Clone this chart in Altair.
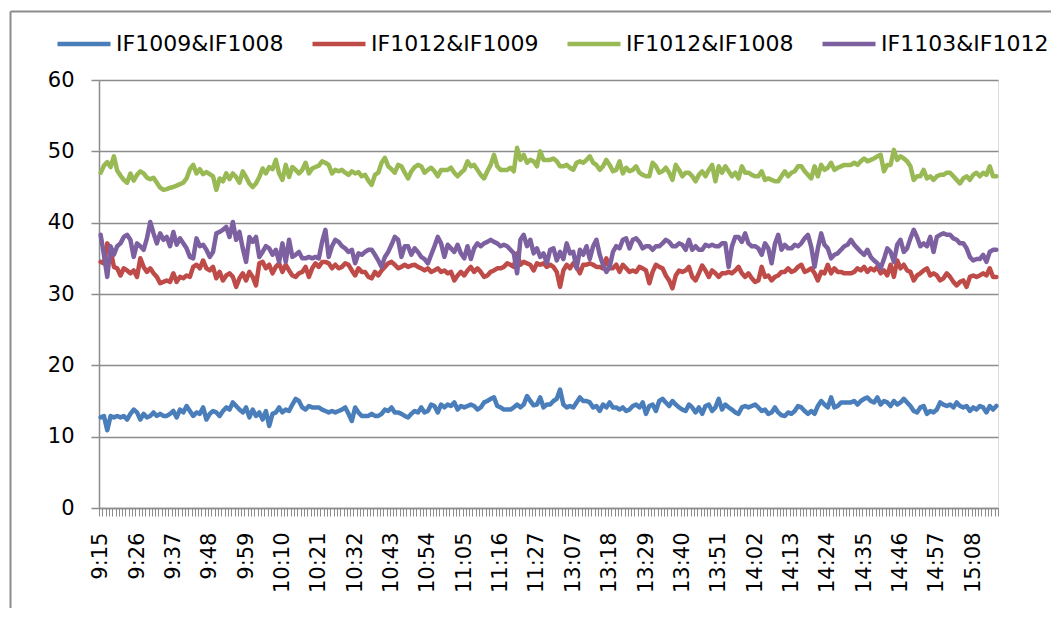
import altair as alt
import pandas as pd

series_names = ["IF1009&IF1008", "IF1012&IF1009", "IF1012&IF1008", "IF1103&IF1012"]
series_colors = ["#4A7EBB", "#BE4B48", "#98B954", "#7D60A0"]

tick_labels = ["9:15", "9:26", "9:37", "9:48", "9:59", "10:10", "10:21", "10:32",
               "10:43", "10:54", "11:05", "11:16", "11:27", "13:07", "13:18", "13:29",
               "13:40", "13:51", "14:02", "14:13", "14:24", "14:35", "14:46", "14:57",
               "15:08"]


def session(h0, m0, h1, m1):
    out = []
    t = h0 * 60 + m0
    while t <= h1 * 60 + m1:
        out.append(f"{t // 60}:{t % 60:02d}")
        t += 1
    return out


times = session(9, 15, 11, 30) + session(13, 0, 15, 15)

blue = [
    12.7, 12.9, 10.9, 12.9, 12.7, 12.9, 12.7, 12.9, 12.4, 13.2,
    13.8, 13.4, 12.4, 13.2, 12.7, 12.9, 13.4, 12.9, 13.2, 12.9,
    12.9, 13.2, 13.6, 12.7, 13.8, 13.4, 14.3, 13.6, 12.9, 13.4,
    13.2, 14.1, 12.4, 13.2, 13.6, 13.4, 12.9, 13.6, 14.1, 13.8,
    14.8, 14.3, 13.8, 13.4, 14.1, 12.7, 13.8, 12.9, 13.4, 12.4,
    13.6, 11.5, 13.2, 13.4, 14.1, 13.4, 13.8, 13.6, 14.5, 15.3,
    15.0, 14.1, 13.8, 14.3, 14.1, 14.1, 14.1, 13.8, 13.6, 13.4,
    13.6, 13.4, 13.6, 13.8, 14.1, 13.2, 12.2, 14.1, 13.4, 12.9,
    12.9, 12.9, 13.2, 12.9, 12.9, 13.2, 13.8, 13.6, 14.1, 13.4,
    13.4, 13.2, 12.9, 12.7, 13.2, 13.6, 13.4, 14.1, 13.4, 13.6,
    14.5, 14.3, 13.4, 14.5, 14.1, 14.5, 14.3, 14.8, 13.8, 14.3,
    14.1, 14.3, 14.5, 14.3, 13.8, 14.1, 14.8, 15.0, 15.3, 15.5,
    14.3, 14.1, 13.8, 13.8, 13.8, 14.1, 14.5, 14.1, 14.5, 15.7,
    15.0, 14.4, 14.5, 15.5, 14.1, 14.5, 14.5, 15.0, 15.3, 16.6,
    14.5, 14.1, 14.3, 14.1, 14.8, 15.5, 15.0, 15.0, 14.8, 14.1,
    14.3, 13.6, 14.5, 14.1, 14.8, 14.1, 14.1, 13.8, 14.1, 13.6,
    13.8, 14.3, 14.5, 14.1, 14.8, 13.2, 14.3, 14.5, 13.6, 15.0,
    15.3, 14.8, 14.3, 15.0, 14.5, 14.1, 13.8, 13.6, 14.5, 14.1,
    13.4, 14.1, 13.2, 14.3, 14.5, 13.6, 14.1, 15.3, 13.8, 14.5,
    14.1, 13.8, 13.4, 13.2, 14.1, 14.3, 14.1, 14.3, 14.5, 14.1,
    13.6, 13.8, 13.2, 13.4, 14.1, 13.4, 13.0, 12.9, 13.4, 13.2,
    13.6, 14.3, 14.1, 13.6, 13.2, 13.6, 13.2, 14.3, 15.0, 14.5,
    14.1, 15.5, 14.1, 14.3, 14.8, 14.8, 14.8, 14.8, 15.0, 14.5,
    15.0, 15.3, 15.5, 15.0, 14.8, 15.5, 14.5, 15.0, 14.8, 14.3,
    15.0, 14.5, 14.8, 15.3, 14.8, 14.3, 13.6, 13.4, 14.1, 14.3,
    13.2, 13.6, 13.4, 13.8, 14.8, 14.5, 14.3, 14.5, 14.1, 14.8,
    14.3, 14.1, 14.3, 13.6, 14.1, 13.8, 14.3, 14.1, 13.4, 14.3,
    13.8, 14.3,
]

red = [
    34.5, 34.3, 37.1, 36.2, 33.8, 33.6, 32.6, 33.6, 33.3, 32.9,
    33.3, 32.4, 35.0, 33.8, 33.1, 33.6, 32.9, 32.4, 31.5, 31.7,
    31.9, 31.7, 32.9, 31.7, 32.4, 32.2, 32.6, 32.4, 33.8, 34.1,
    33.6, 34.7, 33.6, 33.3, 33.8, 32.2, 33.1, 31.9, 32.6, 32.9,
    32.4, 31.0, 32.2, 32.9, 31.9, 33.1, 32.4, 31.2, 34.3, 34.5,
    33.6, 34.1, 32.9, 33.8, 34.3, 33.1, 34.1, 33.3, 32.6, 32.4,
    32.9, 33.1, 33.8, 32.4, 33.6, 34.3, 33.8, 34.5, 34.5, 34.3,
    33.6, 34.1, 33.6, 33.8, 34.3, 34.1, 33.3, 32.6, 33.6, 33.1,
    33.1, 32.4, 32.2, 33.1, 32.6, 33.3, 33.8, 34.3, 34.5, 34.1,
    33.6, 33.8, 34.1, 33.8, 34.0, 34.1, 33.8, 33.6, 33.3, 33.6,
    33.1, 33.3, 33.6, 33.1, 33.3, 32.9, 33.1, 31.9, 32.6, 33.1,
    32.6, 33.3, 33.8, 33.1, 33.6, 33.1, 32.4, 32.6, 33.1, 33.3,
    33.6, 33.6, 33.8, 34.3, 34.1, 33.8, 35.7, 34.1, 34.5, 34.3,
    34.1, 33.3, 34.3, 34.1, 34.3, 33.8, 34.1, 33.8, 33.1, 31.0,
    33.3, 34.1, 33.6, 34.3, 33.8, 32.9, 34.1, 34.1, 34.3, 34.1,
    33.8, 33.8, 33.6, 35.0, 33.6, 33.6, 34.1, 33.1, 34.1, 33.6,
    33.1, 33.3, 33.1, 33.8, 33.6, 33.3, 31.5, 33.1, 34.1, 33.8,
    33.6, 32.6, 31.9, 30.8, 32.6, 33.3, 33.1, 33.3, 33.8, 32.4,
    31.9, 32.9, 34.0, 33.3, 32.4, 33.3, 32.9, 32.4, 32.9, 32.9,
    33.1, 32.9, 33.3, 33.8, 32.9, 32.4, 32.9, 32.2, 31.7, 31.9,
    33.8, 32.4, 32.6, 31.9, 32.4, 32.6, 33.1, 33.1, 33.6, 33.1,
    33.3, 33.8, 34.1, 33.1, 33.3, 33.6, 32.9, 31.9, 33.1, 32.9,
    34.1, 32.9, 33.6, 33.1, 33.1, 32.9, 32.9, 32.9, 33.1, 33.6,
    33.3, 33.8, 33.1, 33.6, 33.3, 33.8, 32.9, 33.3, 32.6, 34.1,
    32.4, 34.7, 33.6, 34.1, 33.3, 33.1, 31.9, 32.6, 32.9, 33.3,
    33.6, 32.6, 32.9, 32.6, 31.9, 32.2, 32.9, 32.4, 31.7, 31.2,
    31.7, 31.9, 31.0, 32.4, 32.6, 32.4, 32.6, 32.9, 32.6, 33.6,
    32.4, 32.4,
]

green = [
    47.0, 48.0, 48.5, 47.8, 49.3, 47.3, 46.6, 46.0, 45.6, 46.9,
    45.9, 46.7, 47.2, 46.9, 46.3, 46.1, 46.3, 45.6, 44.9, 44.6,
    44.7, 44.9, 45.0, 45.2, 45.4, 45.6, 46.2, 47.5, 48.1, 46.9,
    47.5, 46.8, 47.1, 46.8, 46.5, 44.6, 46.2, 45.8, 46.9, 46.1,
    46.9, 46.4, 45.6, 47.2, 46.4, 45.5, 45.0, 45.5, 46.4, 47.6,
    46.9, 47.8, 47.5, 48.8, 46.9, 46.0, 48.1, 46.4, 47.8, 47.4,
    46.9, 47.4, 48.4, 46.9, 47.6, 47.8, 48.0, 48.6, 48.4, 48.1,
    46.9, 47.4, 47.2, 47.4, 47.0, 46.7, 47.2, 46.9, 47.1, 46.5,
    46.7, 45.9, 45.3, 46.7, 47.0, 48.4, 49.1, 47.9, 47.5, 47.0,
    48.1, 47.9, 47.0, 46.2, 47.2, 47.8, 48.1, 47.9, 47.0, 47.4,
    47.7, 47.2, 46.5, 47.4, 47.4, 47.4, 47.7, 47.0, 46.5, 47.0,
    47.4, 48.6, 47.9, 48.1, 47.4, 46.7, 46.2, 47.2, 48.1, 49.5,
    47.9, 47.4, 47.4, 47.4, 47.7, 47.2, 50.5, 48.8, 49.5, 48.4,
    48.8, 48.6, 47.9, 50.0, 48.8, 48.8, 48.8, 49.0, 48.6, 47.9,
    47.9, 48.1, 47.7, 47.4, 48.4, 48.6, 48.4, 48.8, 49.3, 48.4,
    48.1, 47.4, 47.9, 48.8, 48.1, 47.2, 47.4, 48.6, 46.9, 47.7,
    47.2, 47.4, 47.9, 47.0, 46.7, 46.5, 46.5, 48.4, 47.9, 47.0,
    47.2, 47.7, 47.0, 46.0, 48.1, 47.4, 46.5, 47.0, 47.0, 46.5,
    45.8, 46.7, 47.2, 46.5, 47.4, 48.1, 45.8, 47.9, 47.0, 47.9,
    47.2, 46.5, 47.0, 46.2, 47.9, 47.0, 47.0, 46.7, 46.5, 46.5,
    47.2, 46.0, 46.2, 46.0, 45.8, 45.8, 46.5, 47.2, 46.5, 47.0,
    47.2, 47.9, 47.9, 47.2, 46.7, 46.2, 47.9, 46.5, 48.1, 47.4,
    47.7, 48.4, 47.4, 47.7, 47.9, 48.1, 48.1, 48.1, 48.4, 48.1,
    48.6, 49.0, 48.6, 48.8, 49.0, 49.3, 49.5, 47.2, 48.1, 48.1,
    50.2, 48.8, 49.3, 49.0, 48.6, 47.9, 46.0, 46.5, 46.5, 47.4,
    46.2, 46.5, 46.0, 46.5, 46.7, 46.7, 47.0, 47.0, 46.5, 46.0,
    45.5, 46.2, 46.5, 46.0, 46.7, 47.0, 46.5, 47.0, 46.7, 47.9,
    46.5, 46.5,
]

purple = [
    38.3, 35.5, 32.4, 36.7, 35.5, 36.7, 37.1, 38.0, 38.3, 37.6,
    35.2, 37.1, 36.7, 36.2, 37.8, 40.1, 38.5, 37.1, 38.5, 37.6,
    38.0, 36.7, 38.7, 36.9, 37.8, 37.1, 36.4, 35.2, 35.0, 37.8,
    36.7, 36.9, 36.2, 35.2, 35.9, 38.5, 38.7, 39.0, 39.4, 38.0,
    40.1, 37.6, 38.7, 36.4, 34.5, 38.0, 37.3, 38.0, 35.2, 35.9,
    36.7, 36.4, 35.5, 36.2, 34.5, 37.1, 34.5, 37.6, 35.2, 35.5,
    35.9, 35.0, 35.0, 35.2, 35.0, 35.2, 35.0, 37.3, 39.0, 35.2,
    36.7, 37.6, 37.3, 36.7, 36.4, 35.9, 36.2, 34.3, 35.7, 35.5,
    35.9, 36.2, 36.2, 35.5, 34.7, 33.8, 35.2, 35.9, 36.9, 38.0,
    37.6, 35.2, 36.7, 36.7, 35.5, 36.4, 35.9, 35.2, 34.9, 34.3,
    35.5, 36.7, 38.0, 37.1, 35.2, 36.9, 36.4, 35.9, 36.9, 35.7,
    35.0, 36.7, 34.9, 36.4, 37.1, 36.7, 37.1, 37.3, 37.6, 37.3,
    37.1, 36.7, 36.9, 36.7, 36.2, 35.7, 32.9, 37.6, 38.3, 36.7,
    37.6, 35.7, 36.4, 35.2, 35.7, 34.3, 36.2, 36.4, 34.7, 35.9,
    34.9, 37.1, 35.7, 35.9, 33.6, 36.2, 35.5, 36.7, 34.9, 36.7,
    37.6, 35.5, 34.1, 33.1, 33.8, 35.9, 36.7, 36.4, 37.6, 37.8,
    36.4, 37.6, 37.8, 37.3, 36.4, 36.7, 36.7, 36.2, 36.7, 36.7,
    37.1, 37.6, 37.3, 36.7, 36.7, 37.1, 36.9, 36.2, 37.6, 36.2,
    36.7, 36.2, 36.2, 36.9, 36.7, 36.9, 36.7, 36.7, 37.1, 37.1,
    33.8, 36.7, 38.0, 38.0, 37.3, 38.5, 37.1, 36.7, 36.7, 36.4,
    35.5, 37.1, 36.4, 34.3, 37.0, 38.3, 36.2, 36.9, 36.4, 36.4,
    36.9, 36.7, 37.1, 37.8, 38.3, 36.6, 33.8, 36.4, 38.5, 36.9,
    36.4, 35.0, 35.5, 35.7, 36.2, 36.7, 36.9, 37.6, 36.9, 36.4,
    35.9, 35.5, 36.2, 35.2, 34.7, 34.3, 33.6, 34.9, 36.4, 35.9,
    34.5, 36.9, 37.6, 35.9, 36.4, 37.8, 39.0, 38.0, 36.7, 37.1,
    36.7, 38.0, 35.9, 38.0, 38.3, 38.5, 38.3, 38.3, 37.8, 37.6,
    37.1, 37.1, 36.4, 35.2, 34.7, 34.9, 34.9, 35.5, 34.5, 35.9,
    36.2, 36.2,
]

all_series = [blue, red, green, purple]
for s in all_series:
    assert len(s) == len(times), (len(s), len(times))

rows = []
for name, vals in zip(series_names, all_series):
    for t, v in zip(times, vals):
        rows.append({"time": t, "series": name, "value": v})
df = pd.DataFrame(rows)

FONT = "DejaVu Sans"
GRAY = "#8c8c8c"

label_expr = ("indexof([" + ",".join(f"'{l}'" for l in tick_labels)
              + "], datum.value) >= 0 ? datum.value : ''")

lines = alt.Chart(df).mark_line(strokeWidth=4.5, strokeJoin="round", strokeCap="round").encode(
    x=alt.X(
        "time:N",
        sort=times,
        bandPosition=0.5,
        scale=alt.Scale(type="band", paddingInner=0, paddingOuter=0),
        axis=alt.Axis(
            title=None, labelAngle=-90, labelExpr=label_expr, labelOverlap=False,
            tickBand="extent", tickSize=8, tickColor=GRAY, tickWidth=1,
            domainColor=GRAY, domainWidth=1.5, labelPadding=16,
            labelFont=FONT, labelFontSize=21, labelColor="#000000",
            grid=False,
        ),
    ),
    y=alt.Y(
        "value:Q",
        scale=alt.Scale(domain=[0, 60], nice=False),
        axis=alt.Axis(
            title=None, values=[0, 10, 20, 30, 40, 50, 60], grid=True,
            gridColor=GRAY, gridWidth=1.5, tickSize=8, tickColor=GRAY,
            tickWidth=1.5, domainColor=GRAY, domainWidth=1.5, labelPadding=17,
            labelFont=FONT, labelFontSize=21, labelColor="#000000",
        ),
    ),
    color=alt.Color(
        "series:N",
        sort=series_names,
        scale=alt.Scale(domain=series_names, range=series_colors),
        legend=alt.Legend(
            title=None, orient="none", direction="horizontal",
            legendX=-44, legendY=-65, symbolType="stroke", symbolSize=2809,
            symbolStrokeWidth=4.5, labelFont=FONT, labelFontSize=22,
            labelColor="#000000", labelLimit=0, columnPadding=19,
            labelOffset=3, padding=0,
        ),
    ),
)

one = pd.DataFrame({"k": [0]})
frame_left = alt.Chart(one).mark_rule(color=GRAY, strokeWidth=2).encode(
    x=alt.value(-88.5), y=alt.value(-68.5), y2=alt.value(700)
)
frame_top = alt.Chart(one).mark_rule(color=GRAY, strokeWidth=2).encode(
    x=alt.value(-88.5), x2=alt.value(1100), y=alt.value(-68.5)
)

chart = alt.layer(frame_left, frame_top, lines).properties(
    width=899,
    height=428,
    autosize=alt.AutoSizeParams(type="none"),
    padding={"left": 91, "top": 72, "right": 53, "bottom": 100},
).configure_view(stroke=None).configure(background="white")

chart.save("out.html", embed_options={"renderer": "svg", "actions": False})
